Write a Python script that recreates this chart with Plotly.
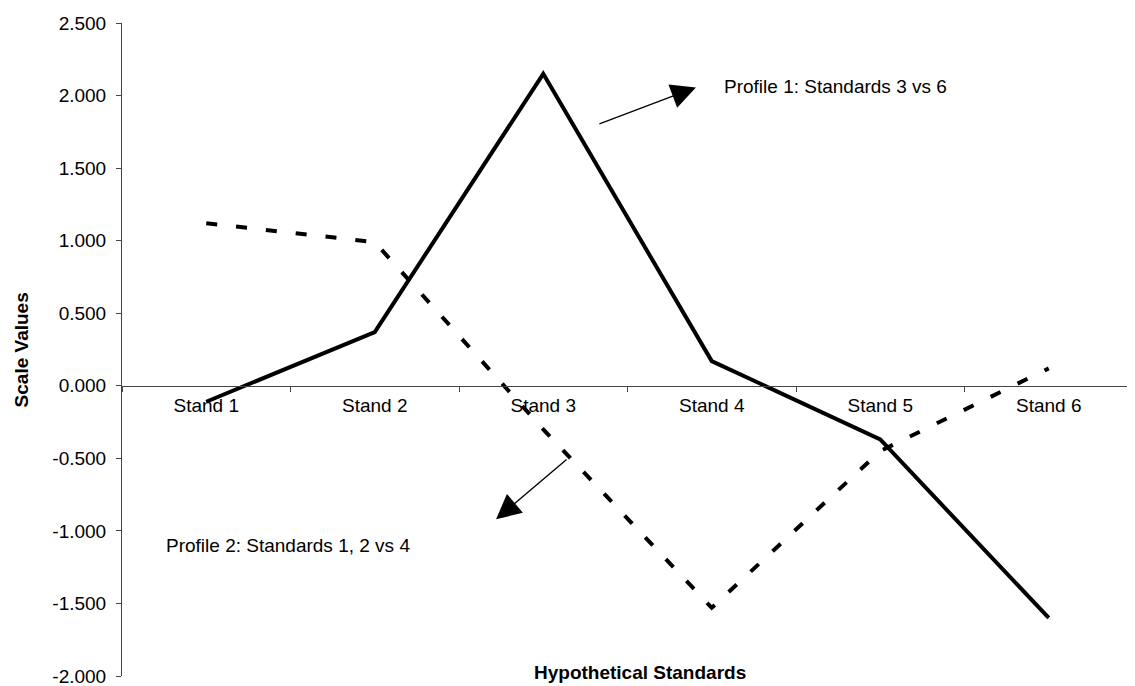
import plotly.graph_objects as go

categories = ["Stand 1", "Stand 2", "Stand 3", "Stand 4", "Stand 5", "Stand 6"]
profile1 = [-0.11, 0.37, 2.15, 0.17, -0.37, -1.60]
profile2 = [1.12, 0.99, -0.30, -1.53, -0.45, 0.12]
y_ticks = [2.5, 2.0, 1.5, 1.0, 0.5, 0.0, -0.5, -1.0, -1.5, -2.0]
y_tick_labels = ["%.3f" % v for v in y_ticks]

FONT = "Liberation Sans, Arial, sans-serif"
AXC = "#444444"
FS = 19

fig = go.Figure()
fig.add_trace(go.Scatter(
    x=categories, y=profile1, mode="lines",
    line=dict(color="black", width=4), name="Profile 1", showlegend=False,
))
fig.add_trace(go.Scatter(
    x=categories, y=profile2, mode="lines",
    line=dict(color="black", width=4, dash="11px,19px"), name="Profile 2", showlegend=False,
))

ymin, ymax = -2.0, 2.5
fig.update_layout(
    width=1127, height=686,
    margin=dict(l=114, r=2, t=15, b=18),
    paper_bgcolor="white", plot_bgcolor="white",
    font=dict(family=FONT, size=FS, color="black"),
    xaxis=dict(
        type="category", range=[-0.5, 5.5],
        anchor="free", position=(0 - ymin) / (ymax - ymin),
        showline=True, linecolor=AXC, linewidth=1,
        ticks="outside", tickson="boundaries", ticklen=5, tickcolor=AXC,
        showgrid=False, zeroline=False,
        tickfont=dict(family=FONT, size=FS, color="black"),
        ticklabelstandoff=2,
    ),
    yaxis=dict(
        range=[ymin, ymax], tickvals=y_ticks, ticktext=y_tick_labels,
        showline=True, linecolor=AXC, linewidth=1,
        ticks="outside", ticklen=5, tickcolor=AXC,
        showgrid=False, zeroline=False,
        tickfont=dict(family=FONT, size=FS, color="black"),
        ticklabelstandoff=6,
    ),
    annotations=[
        dict(xref="paper", yref="paper", x=0.512, y=0.005, text="<b>Hypothetical Standards</b>",
             showarrow=False, xanchor="center", yanchor="middle",
             font=dict(family=FONT, size=FS, color="black")),
        dict(xref="paper", yref="paper", x=-0.099, y=0.5, text="<b>Scale Values</b>",
             textangle=-90, showarrow=False, xanchor="center", yanchor="middle",
             font=dict(family=FONT, size=FS, color="black")),
        dict(x=3.06, y=2.06, xref="x", yref="y", text="Profile 1: Standards 3 vs 6",
             showarrow=False, xanchor="left", yanchor="middle",
             font=dict(family=FONT, size=FS, color="black")),
        dict(x=-0.25, y=-1.10, xref="x", yref="y", text="Profile 2: Standards 1, 2 vs 4",
             showarrow=False, xanchor="left", yanchor="middle",
             font=dict(family=FONT, size=FS, color="black")),
        dict(x=2.906, y=2.056, xref="x", yref="y", text="", showarrow=True,
             ax=-98, ay=37, arrowhead=2, arrowsize=3.8, arrowwidth=1.3, arrowcolor="black"),
        dict(x=1.72, y=-0.92, xref="x", yref="y", text="", showarrow=True,
             ax=72, ay=-61, arrowhead=2, arrowsize=3.8, arrowwidth=1.3, arrowcolor="black"),
    ],
)

fig.write_html("out.html")
